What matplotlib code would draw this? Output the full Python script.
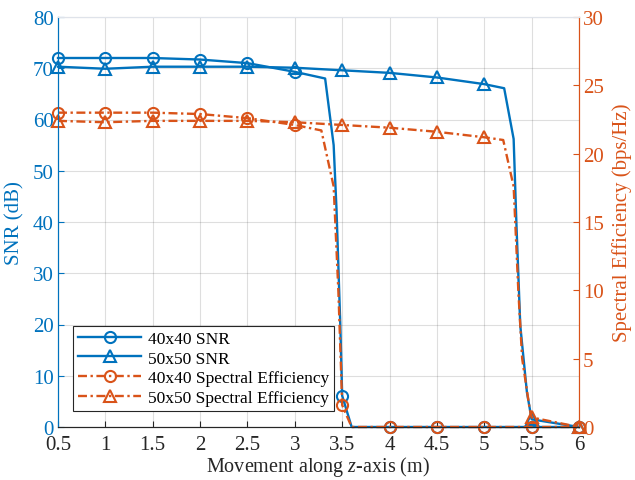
import numpy as np
import matplotlib
matplotlib.use("Agg")
import matplotlib.pyplot as plt

plt.rcParams['font.family'] = ['Liberation Serif', 'DejaVu Serif']
plt.rcParams['mathtext.fontset'] = 'custom'
plt.rcParams['mathtext.it'] = 'Liberation Serif:italic'
plt.rcParams['mathtext.rm'] = 'Liberation Serif'

# ---------------------------------------------------------------------------
# data (extra points describe the steep drops)
x_40 = [0.5, 1, 1.5, 2, 2.5, 3, 3.32, 3.41, 3.44, 3.48, 3.5, 3.6, 4, 4.5, 5, 5.5, 6]
snr_40 = [72.0, 72.0, 72.0, 71.7, 71.0, 69.3, 68.0, 55.0, 42.5, 20.0, 6.1, 0, 0, 0, 0, 0, 0]

x_50 = [0.5, 1, 1.5, 2, 2.5, 3, 3.5, 4, 4.5, 5, 5.21, 5.31, 5.34, 5.38, 5.45, 5.5, 6]
snr_50 = [70.3, 69.9, 70.3, 70.3, 70.3, 70.1, 69.6, 69.1, 68.2, 66.9, 66.1, 56.2, 39.3, 19.8, 6.8, 1.5, 0]

x_se40 = [0.5, 1, 1.5, 2, 2.5, 3, 3.28, 3.41, 3.46, 3.49, 3.5, 3.6, 4, 4.5, 5, 5.5, 6]
se_40 = [23.0, 23.0, 23.0, 22.9, 22.6, 22.1, 21.7, 17.6, 9.9, 3.8, 1.6, 0, 0, 0, 0, 0, 0]

x_se50 = [0.5, 1, 1.5, 2, 2.5, 3, 3.5, 4, 4.5, 5, 5.2, 5.31, 5.36, 5.4, 5.48, 5.5, 6]
se_50 = [22.4, 22.3, 22.4, 22.4, 22.4, 22.3, 22.1, 21.9, 21.6, 21.2, 21.0, 17.6, 9.9, 5.0, 1.3, 0.7, 0]

x_ticks = [0.5, 1, 1.5, 2, 2.5, 3, 3.5, 4, 4.5, 5, 5.5, 6]
x_ticklabels = ['0.5', '1', '1.5', '2', '2.5', '3', '3.5', '4', '4.5', '5', '5.5', '6']
snr_ticks = [0, 10, 20, 30, 40, 50, 60, 70, 80]
se_ticks = [0, 5, 10, 15, 20, 25, 30]

blue = '#0072BD'
orange = '#D95319'
dark = '#262626'
dashdot = (3.8, 1.5, 1.0, 1.5)


def marks(xs):
    # markers only on the 0.5 grid
    return [i for i, v in enumerate(xs) if abs(v * 2 - round(v * 2)) < 1e-9]


fig = plt.figure(figsize=(6.35, 4.81), dpi=100)
ax = fig.add_axes([58 / 635, 1 - 428 / 481, 521 / 635, 410 / 481])
ax2 = ax.twinx()

ax.plot(x_40, snr_40, '-', color=blue, lw=1.7, marker='o', ms=8, mfc='none',
        mew=1.5, markevery=marks(x_40), label='40x40 SNR', clip_on=False, zorder=3)
ax.plot(x_50, snr_50, '-', color=blue, lw=1.7, marker='^', ms=8, mfc='none',
        mew=1.5, markevery=marks(x_50), label='50x50 SNR', clip_on=False, zorder=3)
ax2.plot(x_se40, se_40, color=orange, lw=1.7, dashes=dashdot, marker='o', ms=8, mfc='none',
         mew=1.5, markevery=marks(x_se40), label='40x40 Spectral Efficiency', clip_on=False)
ax2.plot(x_se50, se_50, color=orange, lw=1.7, dashes=dashdot, marker='^', ms=8, mfc='none',
         mew=1.5, markevery=marks(x_se50), label='50x50 Spectral Efficiency', clip_on=False)

ax.set_xlim(0.5, 6)
ax.set_ylim(0, 80)
ax2.set_ylim(0, 30)
ax.set_xticks(x_ticks)
ax.set_xticklabels(x_ticklabels)
ax.set_yticks(snr_ticks)
ax2.set_yticks(se_ticks)

ax.tick_params(axis='x', direction='in', labelsize=15, length=4, colors=dark, pad=6)
ax.tick_params(axis='y', direction='in', labelsize=15, length=4, colors=blue, pad=3)
ax2.tick_params(axis='y', direction='in', labelsize=15, length=4, colors=orange, pad=3)

ax.grid(True, color='#262626', alpha=0.15, lw=0.8)
ax.set_axisbelow(True)

for a in (ax, ax2):
    a.spines['top'].set_color('#dfe3ea')
    a.spines['bottom'].set_color(dark)
    a.spines['left'].set_color(blue)
    a.spines['right'].set_color(orange)

ax.set_xlabel('Movement along $\\mathit{z}$-axis (m)', fontsize=14.5, color=dark, labelpad=0)
ax.set_ylabel('SNR (dB)', fontsize=15, color=blue, labelpad=6)
ax2.set_ylabel('Spectral Efficiency (bps/Hz)', fontsize=15, color=orange, labelpad=6)

h1, l1 = ax.get_legend_handles_labels()
h2, l2 = ax2.get_legend_handles_labels()
leg = ax2.legend(h1 + h2, l1 + l2, loc='lower left', bbox_to_anchor=(0.029, 0.039),
                 borderaxespad=0, fontsize=12.5, handlelength=3.6, fancybox=False,
                 framealpha=1, borderpad=0.3, labelspacing=0.2, handletextpad=0.4)
leg.get_frame().set_edgecolor(dark)
leg.get_frame().set_linewidth(0.8)

fig.savefig('out.png', dpi=100)
